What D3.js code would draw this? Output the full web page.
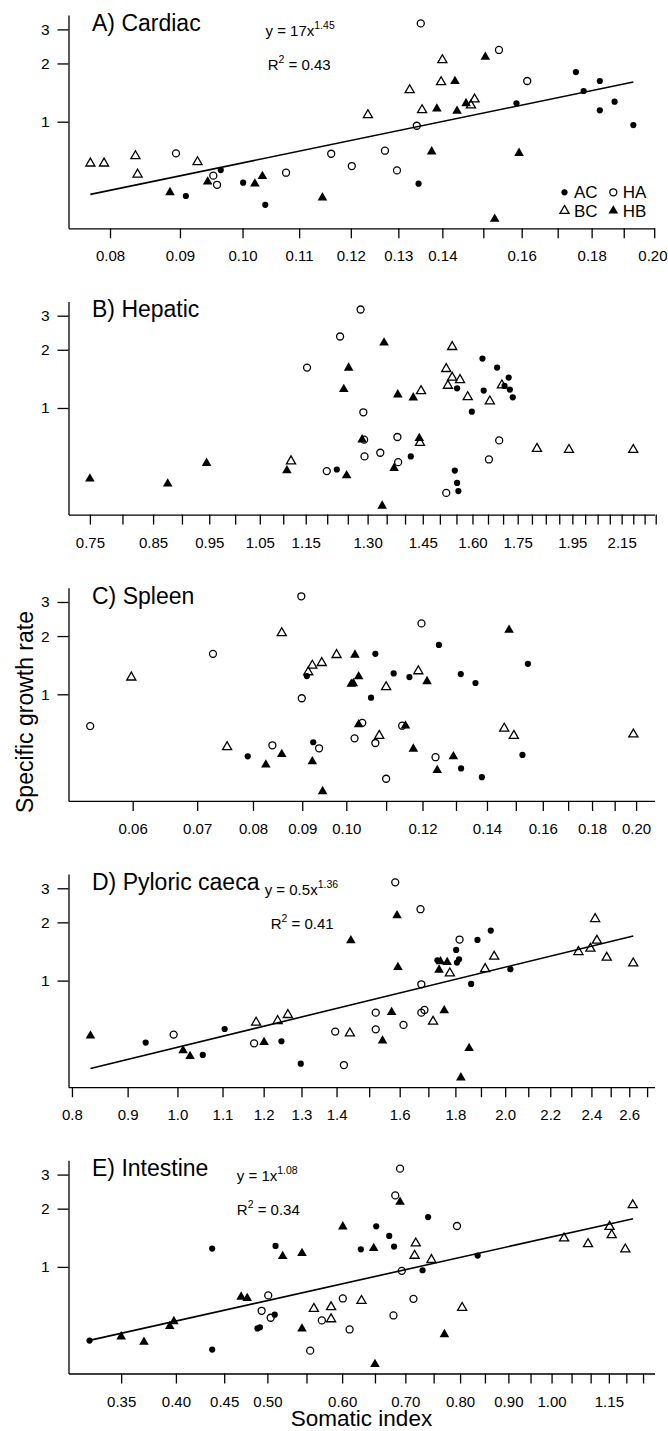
<!DOCTYPE html>
<html>
<head>
<meta charset="utf-8">
<script src="https://cdn.jsdelivr.net/npm/d3@7"></script>
<style>
body { margin: 0; background: #fff; }
svg { display: block; font-family: "Liberation Sans", Arial, sans-serif; }
</style>
</head>
<body>
<svg></svg>
<script>
var w = 668;
var h = 1431;

// panel titles and axis settings
var titles = ["A) Cardiac", "B) Hepatic", "C) Spleen", "D) Pyloric caeca", "E) Intestine"];
var xDomains = [[0.0746, 0.2001], [0.7189, 2.2945], [0.05146, 0.2090], [0.7942, 2.7426], [0.3078, 1.2854]];
var yDomain = [0.2812, 3.556];
var yTicks = [1, 2, 3];

var ticksA = [0.08, 0.09, 0.10, 0.11, 0.12, 0.13, 0.14, 0.15, 0.16, 0.17, 0.18, 0.19, 0.20];
var labelsA = ["0.08", "0.09", "0.10", "0.11", "0.12", "0.13", "0.14", "0.16", "0.18", "0.20"];
var ticksB = [0.75, 0.80, 0.85, 0.90, 0.95, 1.00, 1.05, 1.10, 1.15, 1.20, 1.25, 1.30, 1.35, 1.40, 1.45, 1.50,
	1.55, 1.60, 1.65, 1.70, 1.75, 1.80, 1.85, 1.90, 1.95, 2.00, 2.05, 2.10, 2.15, 2.20, 2.25, 2.30];
var labelsB = ["0.75", "0.85", "0.95", "1.05", "1.15", "1.30", "1.45", "1.60", "1.75", "1.95", "2.15"];
var ticksC = [0.06, 0.07, 0.08, 0.09, 0.10, 0.11, 0.12, 0.13, 0.14, 0.15, 0.16, 0.17, 0.18, 0.19, 0.20];
var labelsC = ["0.06", "0.07", "0.08", "0.09", "0.10", "0.12", "0.14", "0.16", "0.18", "0.20"];
var ticksD = [0.8, 0.9, 1.0, 1.1, 1.2, 1.3, 1.4, 1.5, 1.6, 1.7, 1.8, 1.9, 2.0, 2.1, 2.2, 2.3, 2.4, 2.5, 2.6, 2.7];
var labelsD = ["0.8", "0.9", "1.0", "1.1", "1.2", "1.3", "1.4", "1.6", "1.8", "2.0", "2.2", "2.4", "2.6"];
var ticksE = [0.35, 0.40, 0.45, 0.50, 0.55, 0.60, 0.65, 0.70, 0.75, 0.80, 0.85, 0.90, 0.95, 1.00, 1.05, 1.10, 1.15, 1.20, 1.25];
var labelsE = ["0.35", "0.40", "0.45", "0.50", "0.60", "0.70", "0.80", "0.90", "1.00", "1.15"];

// [somatic index, specific growth rate]
var cardiacAC = [[0.0909,0.413],[0.0964,0.562],[0.1001,0.484],[0.1039,0.372],[0.1345,0.478],[0.1586,1.244],[0.1753,1.806],[0.1776,1.441],[0.1825,1.623],[0.1825,1.145],[0.1871,1.269],[0.1931,0.961]];
var cardiacHA = [[0.0894,0.686],[0.0952,0.526],[0.0958,0.472],[0.1076,0.545],[0.1161,0.683],[0.1202,0.590],[0.1271,0.708],[0.1297,0.560],[0.1341,0.953],[0.1350,3.22],[0.1540,2.349],[0.1615,1.623]];
var cardiacBC = [[0.0774,0.609],[0.0792,0.609],[0.0835,0.665],[0.0838,0.534],[0.0927,0.619],[0.1235,1.083],[0.1325,1.458],[0.1353,1.149],[0.1397,1.604],[0.1400,2.084],[0.1469,1.215],[0.1478,1.305]];
var cardiacHB = [[0.0885,0.431],[0.0943,0.489],[0.1021,0.478],[0.1034,0.522],[0.1144,0.405],[0.1375,0.700],[0.1387,1.167],[0.1430,1.617],[0.1435,1.136],[0.1457,1.244],[0.1505,2.160],[0.1529,0.314],[0.1593,0.688]];

var hepaticAC = [[1.223,0.481],[1.416,0.562],[1.545,0.475],[1.552,0.410],[1.556,0.372],[1.552,1.264],[1.598,0.957],[1.632,1.801],[1.636,1.230],[1.680,1.618],[1.719,1.436],[1.723,1.245],[1.733,1.136],[1.705,1.30]];
var hepaticHA = [[1.282,3.23],[1.231,2.342],[1.153,1.618],[1.289,0.950],[1.379,0.708],[1.291,0.686],[1.687,0.680],[1.333,0.587],[1.292,0.562],[1.653,0.542],[1.381,0.525],[1.199,0.472],[1.519,0.364]];
var hepaticBC = [[1.117,0.531],[1.442,0.661],[1.445,1.225],[1.519,1.593],[1.524,1.305],[1.537,2.070],[1.537,1.436],[1.561,1.397],[1.585,1.140],[1.656,1.083],[1.696,1.310],[1.818,0.616],[1.937,0.608],[2.200,0.608]];
var hepaticHB = [[0.750,0.431],[0.875,0.406],[0.945,0.519],[1.108,0.475],[1.247,0.448],[1.240,1.249],[1.252,1.612],[1.286,0.686],[1.343,2.172],[1.338,0.312],[1.370,0.489],[1.380,1.172],[1.423,1.131],[1.440,0.697]];

var spleenAC = [[0.0790,0.478],[0.0910,1.242],[0.0924,0.565],[0.1061,0.961],[0.1072,1.618],[0.1120,1.282],[0.1163,1.228],[0.1248,1.799],[0.1315,1.272],[0.1316,0.414],[0.1362,1.144],[0.1383,0.373],[0.1524,0.486],[0.1544,1.437]];
var spleenHA = [[0.0542,0.685],[0.0727,1.618],[0.0838,0.545],[0.0898,3.21],[0.0899,0.954],[0.0937,0.526],[0.1020,0.592],[0.1039,0.712],[0.1072,0.560],[0.1100,0.366],[0.1143,0.688],[0.1197,2.325],[0.1238,0.473]];
var spleenBC = [[0.0598,1.223],[0.0752,0.534],[0.0857,2.074],[0.0913,1.302],[0.0922,1.409],[0.0943,1.454],[0.0977,1.599],[0.1082,0.611],[0.1100,1.090],[0.1188,1.318],[0.1459,0.666],[0.1493,0.611],[0.1987,0.621]];
var spleenHB = [[0.0825,0.432],[0.0857,0.490],[0.0922,0.449],[0.0945,0.315],[0.1012,1.130],[0.1017,1.139],[0.1021,1.599],[0.1030,1.237],[0.1030,0.698],[0.1152,0.688],[0.1174,0.522],[0.1213,1.166],[0.1243,0.405],[0.1292,0.477],[0.1476,2.148]];

var pyloricAC = [[0.935,0.478],[1.055,0.413],[1.105,0.562],[1.246,0.486],[1.298,0.372],[1.733,1.274],[1.803,1.441],[1.806,1.239],[1.814,1.289],[1.861,0.961],[1.886,1.623],[1.940,1.814],[2.022,1.145]];
var pyloricHA = [[0.992,0.526],[1.176,0.474],[1.396,0.545],[1.422,0.366],[1.521,0.683],[1.521,0.560],[1.585,3.22],[1.613,0.590],[1.672,2.339],[1.675,0.957],[1.675,0.683],[1.686,0.705],[1.816,1.630]];
var pyloricBC = [[1.181,0.607],[1.236,0.619],[1.263,0.665],[1.440,0.534],[1.717,0.614],[1.779,1.091],[1.917,1.149],[1.954,1.331],[2.335,1.407],[2.395,1.464],[2.419,2.084],[2.428,1.610],[2.479,1.315],[2.622,1.229]];
var pyloricHB = [[0.832,0.519],[1.012,0.435],[1.027,0.406],[1.201,0.480],[1.443,1.610],[1.543,0.489],[1.573,0.686],[1.591,2.169],[1.594,1.172],[1.739,1.136],[1.744,1.254],[1.769,1.244],[1.758,0.700],[1.821,0.315],[1.853,0.447]];

var intestineAC = [[0.324,0.416],[0.437,1.243],[0.437,0.374],[0.488,0.481],[0.491,0.487],[0.509,0.566],[0.510,1.283],[0.628,1.233],[0.652,1.620],[0.673,1.445],[0.681,1.273],[0.730,0.961],[0.740,1.810],[0.835,1.144]];
var intestineHA = [[0.493,0.593],[0.501,0.712],[0.504,0.546],[0.555,0.369],[0.571,0.529],[0.601,0.687],[0.611,0.475],[0.680,0.561],[0.683,2.341],[0.691,3.22],[0.694,0.954],[0.714,0.684],[0.794,1.627]];
var intestineBC = [[0.560,0.608],[0.584,0.620],[0.584,0.537],[0.629,0.668],[0.716,1.144],[0.718,1.324],[0.746,1.087],[0.804,0.615],[1.031,1.405],[1.093,1.314],[1.152,1.614],[1.158,1.462],[1.197,1.233],[1.219,2.087]];
var intestineHB = [[0.350,0.436],[0.370,0.409],[0.394,0.493],[0.398,0.523],[0.469,0.700],[0.476,0.689],[0.519,1.135],[0.544,0.479],[0.544,1.176],[0.601,1.614],[0.648,1.248],[0.650,0.314],[0.691,2.163],[0.770,0.448]];

// fitted power lines (end points) and their labels
var cardiacFit = [[0.0774,0.421],[0.1931,1.604]];
var pyloricFit = [[0.832,0.351],[2.622,1.702]];
var intestineFit = [[0.324,0.417],[1.22,1.775]];
var eqText = ["y = 17x", "y = 0.5x", "y = 1x"];
var eqPower = ["1.45", "1.36", "1.08"];
var r2Text = ["0.43", "0.41", "0.34"];

var groups = ["AC", "HA", "BC", "HB"];

var panels = [
	{ title: titles[0], ticks: ticksA, labels: labelsA, data: [cardiacAC, cardiacHA, cardiacBC, cardiacHB], fit: cardiacFit, eq: 0, eqX: 265.5, r2X: 267.7 },
	{ title: titles[1], ticks: ticksB, labels: labelsB, data: [hepaticAC, hepaticHA, hepaticBC, hepaticHB] },
	{ title: titles[2], ticks: ticksC, labels: labelsC, data: [spleenAC, spleenHA, spleenBC, spleenHB] },
	{ title: titles[3], ticks: ticksD, labels: labelsD, data: [pyloricAC, pyloricHA, pyloricBC, pyloricHB], fit: pyloricFit, eq: 1, eqX: 264.7, r2X: 270.7 },
	{ title: titles[4], ticks: ticksE, labels: labelsE, data: [intestineAC, intestineHA, intestineBC, intestineHB], fit: intestineFit, eq: 2, eqX: 236.8, r2X: 236.8 }
];

var left = 68.5, right = 654.5;
var top0 = 15.1, step = 286.3, ph = 213.2;

var svg = d3.select("svg")
	.attr("width", w)
	.attr("height", h)
	.style("background-color", "white");

var marks = {
	AC: { type: d3.symbolCircle, size: Math.PI * 3.1 * 3.1, fill: "#000", stroke: "none" },
	HA: { type: d3.symbolCircle, size: Math.PI * 3.5 * 3.5, fill: "none", stroke: "#000" },
	BC: { type: d3.symbolTriangle, size: 36, fill: "none", stroke: "#000" },
	HB: { type: d3.symbolTriangle, size: 40, fill: "#000", stroke: "none" }
};

function drawMark(sel, g) {
	sel.attr("d", d3.symbol().type(marks[g].type).size(marks[g].size))
		.attr("fill", marks[g].fill)
		.attr("stroke", marks[g].stroke)
		.attr("stroke-width", 1.3);
}

panels.forEach(function (p, i) {
	var g = svg.append("g").attr("transform", "translate(0," + (top0 + i * step) + ")");
	var x = d3.scaleLog().domain(xDomains[i]).range([left, right]);
	var y = d3.scaleLog().domain(yDomain).range([ph, 0]);

	var xa = g.append("g")
		.attr("transform", "translate(0," + ph + ")")
		.call(d3.axisBottom(x)
			.tickValues(p.ticks)
			.tickFormat(function (d) {
				var l = p.labels.find(function (s) { return Math.abs(+s - d) < 1e-9; });
				return l || "";
			})
			.tickSize(10)
			.tickSizeOuter(0)
			.tickPadding(12.5));
	xa.attr("font-size", 15).attr("font-family", null);
	xa.selectAll("path, line").attr("stroke-width", 1.3);
	// keep the last label inside the page
	xa.selectAll(".tick text").each(function () {
		var b = this.getBBox();
		var tx = x(d3.select(this.parentNode).datum());
		var over = tx + b.x + b.width - 667;
		if (over > 0) d3.select(this).attr("dx", -over);
	});

	var ya = g.append("g")
		.attr("transform", "translate(" + left + ",0)")
		.call(d3.axisLeft(y)
			.tickValues(yTicks)
			.tickFormat(d3.format("d"))
			.tickSize(11)
			.tickPadding(8)
			.tickSizeOuter(0));
	ya.attr("font-size", 15.5).attr("font-family", null);
	ya.selectAll("path, line").attr("stroke-width", 1.3);

	g.append("text")
		.attr("x", 92)
		.attr("y", 16)
		.attr("font-size", 23)
		.text(p.title);

	if (p.fit) {
		g.append("path")
			.datum(p.fit)
			.attr("d", d3.line().x(function (d) { return x(d[0]); }).y(function (d) { return y(d[1]); }))
			.attr("fill", "none")
			.attr("stroke", "#000")
			.attr("stroke-width", 1.6);

		var t = g.append("text").attr("x", p.eqX).attr("y", 21).attr("font-size", 15);
		t.append("tspan").text(eqText[p.eq]);
		t.append("tspan").attr("font-size", 10.5).attr("dy", -7).text(eqPower[p.eq]);

		var r = g.append("text").attr("x", p.r2X).attr("y", 55).attr("font-size", 15);
		r.append("tspan").text("R");
		r.append("tspan").attr("font-size", 10.5).attr("dy", -7).text("2");
		r.append("tspan").attr("dy", 7).text(" = " + r2Text[p.eq]);
	}

	groups.forEach(function (gr, k) {
		g.append("g").selectAll("path")
			.data(p.data[k])
			.join("path")
			.attr("transform", function (d) { return "translate(" + x(d[0]) + "," + y(d[1]) + ")"; })
			.call(drawMark, gr);
	});

	if (i === 0) {
		var lg = g.append("g");
		var pos = [[564.5, 177.2], [613.3, 177.2], [564.5, 195.6], [613.3, 195.6]];
		groups.forEach(function (gr, k) {
			lg.append("path")
				.attr("transform", "translate(" + pos[k][0] + "," + pos[k][1] + ")")
				.call(drawMark, gr);
			lg.append("text")
				.attr("x", pos[k][0] + 9.5)
				.attr("y", pos[k][1] + 6)
				.attr("font-size", 17)
				.text(gr);
		});
	}
});

svg.append("text")
	.attr("transform", "translate(33,712) rotate(-90)")
	.attr("text-anchor", "middle")
	.attr("font-size", 23)
	.text("Specific growth rate");

svg.append("text")
	.attr("x", (left + right) / 2)
	.attr("y", 1426)
	.attr("text-anchor", "middle")
	.attr("font-size", 22.5)
	.text("Somatic index");
</script>
</body>
</html>
